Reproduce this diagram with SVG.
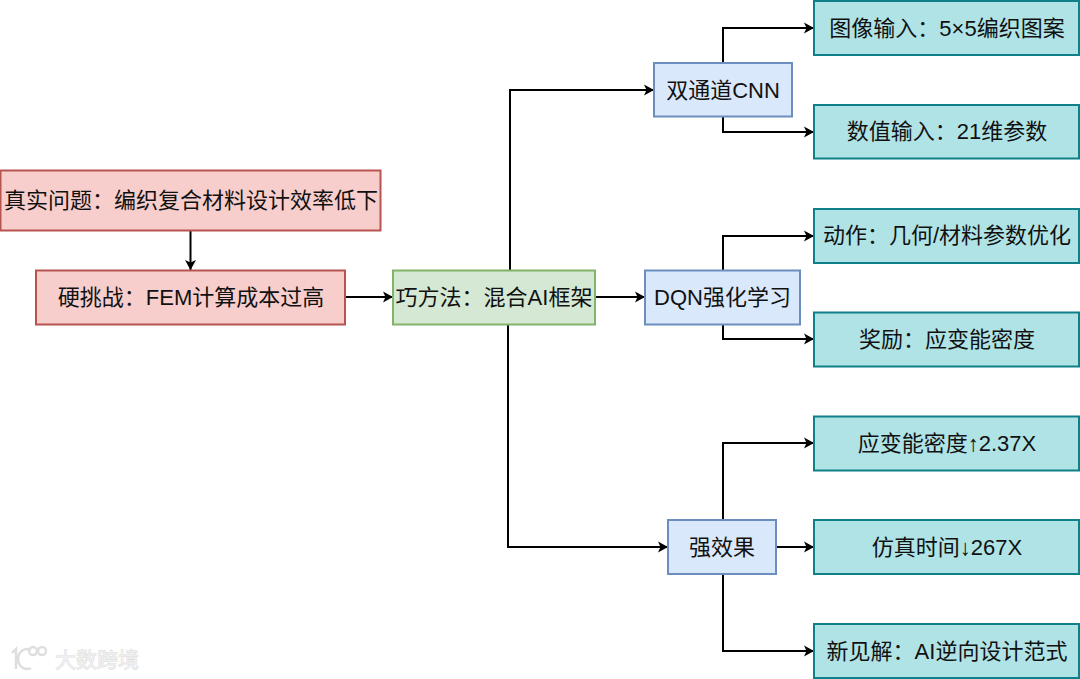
<svg xmlns="http://www.w3.org/2000/svg" width="1080" height="679" viewBox="0 0 1080 679">
<style>
text{font-family:"Liberation Sans","Noto Sans CJK SC",sans-serif;font-size:22px;fill:#111;text-anchor:middle}
.n rect{stroke-width:2}
.r rect{fill:#f8cecc;stroke:#b85450}
.g rect{fill:#d5e8d4;stroke:#82b366}
.b rect{fill:#dae8fc;stroke:#6c8ebf}
.t rect{fill:#b0e3e6;stroke:#0e8088}
.c path{fill:none;stroke:#000;stroke-width:2;marker-end:url(#a)}
.w text{font-size:21px;fill:#efefef;stroke:#dcdcdc;stroke-width:.8;paint-order:stroke}
.w path,.w circle{fill:none;stroke:#dedede;stroke-width:2.400}
</style>
<defs><marker id="a" markerUnits="userSpaceOnUse" markerWidth="11" markerHeight="12" refX="10" refY="6" orient="auto"><path d="M0 .5L10 6L0 11.500L2.500 6Z" fill="#000"/></marker></defs>
<rect width="1080" height="679" fill="#fff"/>
<g class="c" id="connectors">
<path d="M190.500 231V270"/>
<path d="M346 297H393"/>
<path d="M510 270V90H654"/>
<path d="M596 297H645"/>
<path d="M508 324V547H668"/>
<path d="M723 63V28H814"/>
<path d="M723 116V132H814"/>
<path d="M723 270V236H814"/>
<path d="M723 324V339H814"/>
<path d="M723 520V443H814"/>
<path d="M776 547H814"/>
<path d="M723 574V651H814"/>
</g>
<g id="n1" class="n r"><rect x="0.500" y="170.500" width="380" height="60"/><text x="191" y="207.500">真实问题&#65306;编织复合材料设计效率低下</text></g>
<g id="n2" class="n r"><rect x="36" y="270.500" width="309" height="54"/><text x="191" y="304.500">硬挑战&#65306;FEM计算成本过高</text></g>
<g id="n3" class="n g"><rect x="393" y="270.500" width="202" height="54"/><text x="494" y="304.500">巧方法&#65306;混合AI框架</text></g>
<g id="n4" class="n b"><rect x="654" y="63" width="138" height="53.500"/><text x="723" y="97.500">双通道CNN</text></g>
<g id="n5" class="n b"><rect x="645" y="270.500" width="155" height="54"/><text x="722.500" y="304.500">DQN强化学习</text></g>
<g id="n6" class="n b"><rect x="668" y="520" width="108" height="54"/><text x="722" y="554.500">强效果</text></g>
<g id="n7" class="n t"><rect x="814" y="1" width="265" height="54"/><text x="947" y="35.500">图像输入&#65306;5×5编织图案</text></g>
<g id="n8" class="n t"><rect x="814" y="105" width="265" height="53.500"/><text x="947" y="138.500">数值输入&#65306;21维参数</text></g>
<g id="n9" class="n t"><rect x="814" y="209" width="265" height="54"/><text x="947" y="242.500">动作&#65306;几何/材料参数优化</text></g>
<g id="n10" class="n t"><rect x="814" y="312.500" width="265" height="54"/><text x="947" y="346.500">奖励&#65306;应变能密度</text></g>
<g id="n11" class="n t"><rect x="814" y="416.500" width="265" height="54"/><text x="947" y="450.500">应变能密度↑2.37X</text></g>
<g id="n12" class="n t"><rect x="814" y="520" width="265" height="54"/><text x="947" y="554.500">仿真时间↓267X</text></g>
<g id="n13" class="n t"><rect x="814" y="624" width="265" height="54"/><text x="947" y="658.500">新见解&#65306;AI逆向设计范式</text></g>
<g class="w" id="watermark">
<path d="M12 653L16 649V669M31 650A9 10 0 1 0 31 668"/>
<circle cx="33" cy="651" r="4"/><circle cx="42" cy="651" r="4"/>
<text x="97" y="667">大数跨境</text>
</g>
</svg>
